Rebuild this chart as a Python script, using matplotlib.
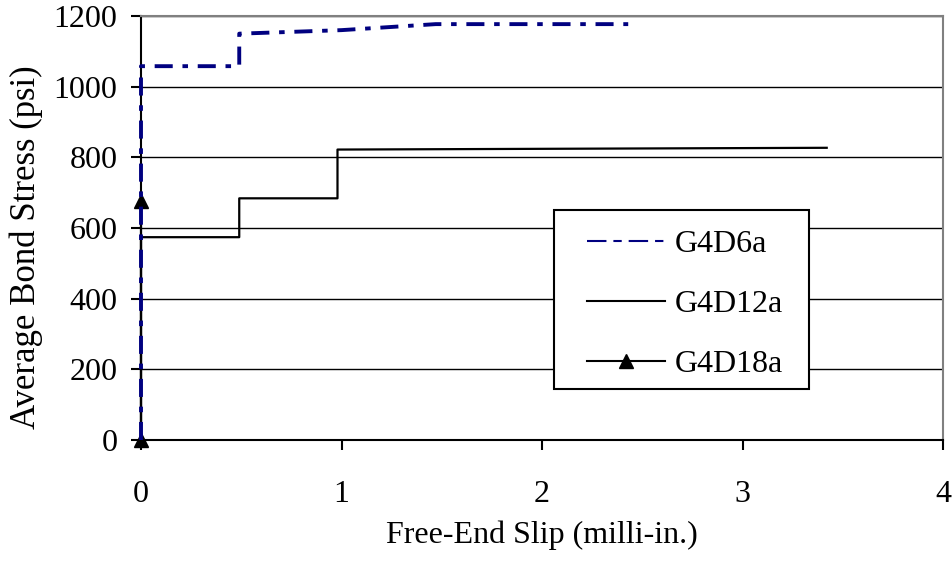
import matplotlib
matplotlib.use("Agg")
import matplotlib.pyplot as plt
from matplotlib.lines import Line2D
from matplotlib.patches import Rectangle

# values
d6_slip = [0, 0, 0.49, 0.49, 1.0, 1.47, 2.43]
d6_stress = [0, 1058, 1058, 1150, 1160, 1177, 1177]
d12_slip = [0, 0, 0.49, 0.49, 0.98, 0.98, 3.42]
d12_stress = [0, 574, 574, 684, 684, 822, 827]
d18_slip = [0, 0]
d18_stress = [0, 676]
labels = ["G4D6a", "G4D12a", "G4D18a"]
x_ticks = [0, 1, 2, 3, 4]
y_ticks = [0, 200, 400, 600, 800, 1000, 1200]

plt.rcParams['font.family'] = ['Liberation Serif', 'DejaVu Serif']
plt.rcParams['font.size'] = 23
plt.rcParams['lines.scale_dashes'] = False

W, H = 953, 561
fig = plt.figure(figsize=(W / 100, H / 100), dpi=100)
ax = fig.add_axes([141 / W, 1 - 440 / H, 802 / W, 424 / H])

ax.set_xlim(0, 4)
ax.set_ylim(0, 1200)
ax.set_xticks(x_ticks)
ax.set_yticks(y_ticks)
ax.grid(axis='y', color='black', linewidth=1.0)
ax.set_axisbelow(True)

navy = '#000080'
ax.plot(d12_slip, d12_stress, color='black', linewidth=1.6, clip_on=False, zorder=3)
ax.plot(d18_slip, d18_stress, color='black', linewidth=1.6, marker='^', markersize=10,
        clip_on=False, zorder=4)
ax.plot(d6_slip, d6_stress, color=navy, linewidth=2.8, dashes=(13, 7, 4, 7),
        clip_on=False, zorder=5)

for side in ['top', 'right']:
    ax.spines[side].set_color('#808080')
    ax.spines[side].set_linewidth(1.5)
for side in ['left', 'bottom']:
    ax.spines[side].set_color('black')
    ax.spines[side].set_linewidth(1.5)
ax.tick_params(direction='out', length=7, width=1.5)
ax.tick_params(axis='x', pad=22)
ax.tick_params(axis='y', pad=10)

ax.set_xlabel('Free-End Slip (milli-in.)')
ax.xaxis.set_label_coords(0.5, -0.19)
ax.set_ylabel('Average Bond Stress (psi)', fontsize=25)
ax.yaxis.set_label_coords(-0.122, 0.455)

# legend frame drawn as a separate box, legend content placed inside it
fig.patches.append(Rectangle((554 / W, 1 - 389 / H), 255 / W, 179 / H,
                             transform=fig.transFigure, facecolor='white',
                             edgecolor='black', linewidth=1.5, zorder=6))
handles = [
    Line2D([], [], color=navy, linewidth=1.5, dashes=(14, 5, 6, 5)),
    Line2D([], [], color='black', linewidth=1.5),
    Line2D([], [], color='black', linewidth=1.5, marker='^', markersize=10),
]
leg = fig.legend(handles, labels, loc='upper left', bbox_to_anchor=(587 / W, 1 - 230 / H),
                 bbox_transform=fig.transFigure, borderaxespad=0, borderpad=0,
                 frameon=False, handlelength=2.45, handletextpad=0.3,
                 labelspacing=0.95)
leg.set_zorder(7)

fig.savefig('out.png', dpi=100)
